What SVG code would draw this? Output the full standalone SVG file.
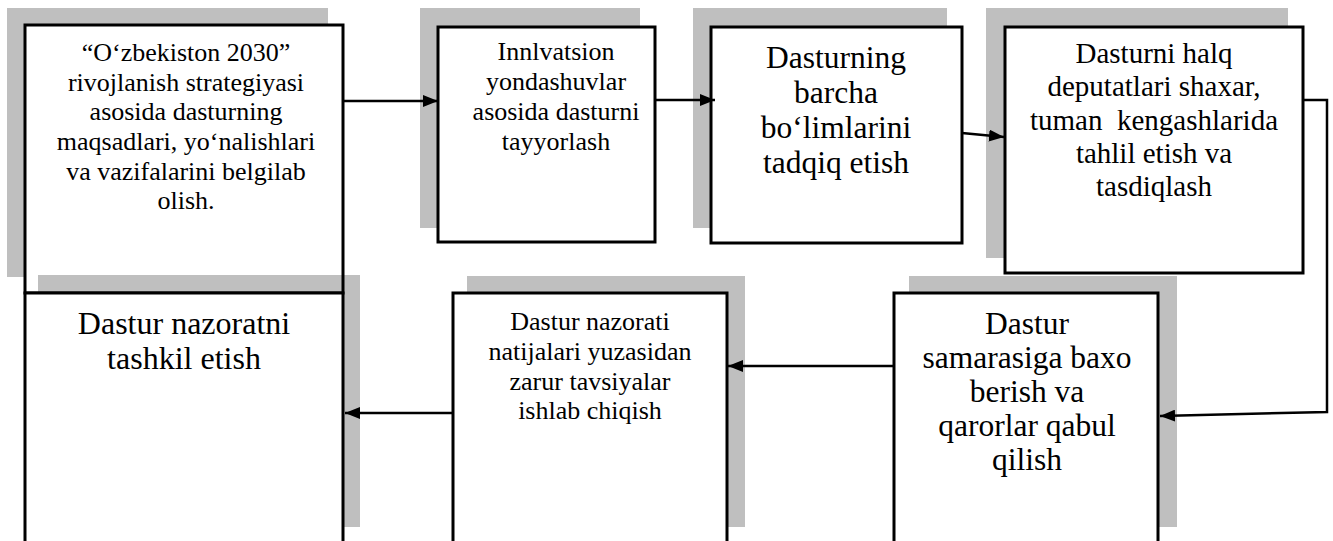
<svg xmlns="http://www.w3.org/2000/svg" width="1333" height="541" viewBox="0 0 1333 541">
<style>
.sh{fill:#000;fill-opacity:0.25}
.bx{fill:#fff;stroke:#000;stroke-width:3}
.t{fill:#000;text-anchor:middle;font-family:'Liberation Serif','Times New Roman',serif}
.s26{font-size:26px}
.s29{font-size:29px}
.s31{font-size:31.5px}
.s32{font-size:32px}
.cn{fill:none;stroke:#000;stroke-width:2.5}
</style>
<defs>
<marker id="ar" markerUnits="userSpaceOnUse" markerWidth="16" markerHeight="12" refX="15" refY="6" orient="auto">
<path d="M0,0 L15,6 L0,12 Z" fill="#000"/>
</marker>
</defs>
<rect width="1333" height="541" fill="#fff"/>
<g id="node1">
<rect class="sh" x="7" y="8" width="321" height="269"/>
<rect class="bx" x="25" y="25" width="318" height="268"/>
<text class="t s26"><tspan x="186" y="61">“O‘zbekiston 2030”</tspan><tspan x="186" y="91">rivojlanish strategiyasi</tspan><tspan x="186" y="120">asosida dasturning</tspan><tspan x="186" y="150">maqsadlari, yo‘nalishlari</tspan><tspan x="186" y="180">va vazifalarini belgilab</tspan><tspan x="186" y="209">olish.</tspan></text>
</g>
<g id="node2">
<rect class="sh" x="420" y="8" width="220" height="220"/>
<rect class="bx" x="438" y="27" width="217" height="215"/>
<text class="t s26"><tspan x="556" y="60">Innlvatsion</tspan><tspan x="556" y="90">yondashuvlar</tspan><tspan x="556" y="120">asosida dasturni</tspan><tspan x="556" y="150">tayyorlash</tspan></text>
</g>
<g id="node3">
<rect class="sh" x="693" y="8" width="254" height="220"/>
<rect class="bx" x="711" y="27" width="251" height="216"/>
<text class="t s31"><tspan x="836" y="68">Dasturning</tspan><tspan x="836" y="103">barcha</tspan><tspan x="836" y="138">bo‘limlarini</tspan><tspan x="836" y="173">tadqiq etish</tspan></text>
</g>
<g id="node4">
<rect class="sh" x="986" y="8" width="302" height="250"/>
<rect class="bx" x="1005" y="27" width="298" height="246"/>
<text class="t s29"><tspan x="1154" y="63">Dasturni halq</tspan><tspan x="1154" y="96">deputatlari shaxar,</tspan><tspan x="1154" y="130">tuman&#160; kengashlarida</tspan><tspan x="1154" y="163">tahlil etish va</tspan><tspan x="1154" y="196">tasdiqlash</tspan></text>
</g>
<g id="node5">
<rect class="sh" x="38" y="275" width="322" height="252"/>
<rect class="bx" x="25" y="293" width="318" height="252"/>
<text class="t s32"><tspan x="184" y="334">Dastur nazoratni</tspan><tspan x="184" y="369">tashkil etish</tspan></text>
</g>
<g id="node6">
<rect class="sh" x="467" y="276" width="278" height="251"/>
<rect class="bx" x="453" y="293" width="274" height="252"/>
<text class="t s26"><tspan x="590" y="330">Dastur nazorati</tspan><tspan x="590" y="360">natijalari yuzasidan</tspan><tspan x="590" y="390">zarur tavsiyalar</tspan><tspan x="590" y="419">ishlab chiqish</tspan></text>
</g>
<g id="node7">
<rect class="sh" x="909" y="276" width="268" height="251"/>
<rect class="bx" x="894" y="293" width="264" height="252"/>
<text class="t s31"><tspan x="1027" y="334">Dastur</tspan><tspan x="1027" y="368">samarasiga baxo</tspan><tspan x="1027" y="402">berish va</tspan><tspan x="1027" y="436">qarorlar qabul</tspan><tspan x="1027" y="470">qilish</tspan></text>
</g>
<g id="connectors">
<path class="cn" d="M343,101 L438,101" marker-end="url(#ar)"/>
<path class="cn" d="M655,100 L715,100" marker-end="url(#ar)"/>
<path class="cn" d="M962,133 L1004,137" marker-end="url(#ar)"/>
<path class="cn" d="M1303,100 L1327,100 L1327,412 L1160,416" marker-end="url(#ar)"/>
<path class="cn" d="M894,366 L728,366" marker-end="url(#ar)"/>
<path class="cn" d="M453,413 L345,413" marker-end="url(#ar)"/>
</g>
</svg>
